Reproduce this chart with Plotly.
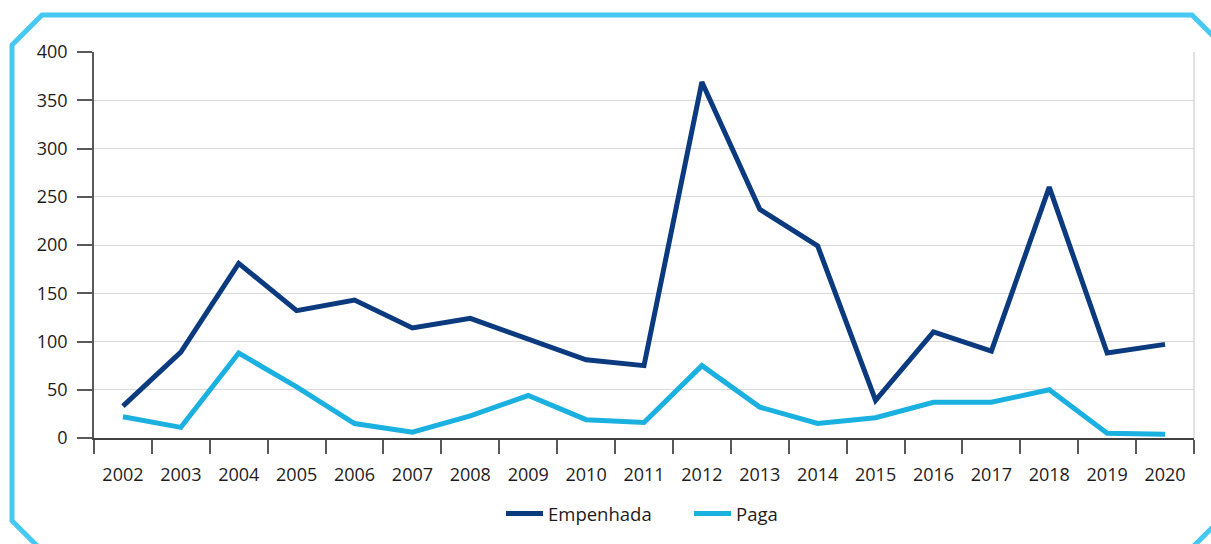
import plotly.graph_objects as go

# ---- data ----
years = ["2002", "2003", "2004", "2005", "2006", "2007", "2008", "2009", "2010", "2011",
         "2012", "2013", "2014", "2015", "2016", "2017", "2018", "2019", "2020"]
empenhada = [33, 89, 181, 132, 143, 114, 124, 102, 81, 75,
             369, 237, 199, 39, 110, 90, 260, 88, 97]
paga = [22, 11, 88, 53, 15, 6, 23, 44, 19, 16,
        75, 32, 15, 21, 37, 37, 50, 5, 4]
series_names = ["Empenhada", "Paga"]
y_ticks = [0, 50, 100, 150, 200, 250, 300, 350, 400]

# ---- layout geometry (pixels) ----
W, H = 1211, 544
L, R, T, B = 94, 1194, 52, 439

def px(x):
    return (x - L) / (R - L)

def py(y):
    return (B - y) / (B - T)

frame_pts = [(12, 45), (42, 15), (1192, 15), (1226, 49), (1226, 515),
             (1180, 561), (51, 561), (12, 522)]
frame_path = "M " + " L ".join(f"{px(x):.5f},{py(y):.5f}" for x, y in frame_pts) + " Z"

FONT = "Open Sans"
TXT = "#1E1B1C"
AX = "#595959"
GRID = "#D9D9D9"

fig = go.Figure()
fig.add_trace(go.Scatter(x=years, y=empenhada, name=series_names[0], mode="lines",
                         line=dict(color="#0B3A7E", width=5)))
fig.add_trace(go.Scatter(x=years, y=paga, name=series_names[1], mode="lines",
                         line=dict(color="#1AB0E0", width=5)))

fig.update_layout(
    width=W, height=H,
    margin=dict(l=L, r=W - R, t=T, b=H - B, pad=0),
    paper_bgcolor="white", plot_bgcolor="white",
    font=dict(family=FONT, size=18, color=TXT),
    showlegend=True,
    legend=dict(orientation="h", x=px(501), xanchor="left", y=py(514), yanchor="middle",
                entrywidth=136, entrywidthmode="pixels", itemwidth=37,
                font=dict(family=FONT, size=18.5, color=TXT), bgcolor="rgba(0,0,0,0)"),
    xaxis=dict(type="category", tickson="boundaries", ticks="outside", ticklen=14,
               tickcolor=AX, tickwidth=1.5, showline=True, linecolor="#404040", linewidth=1.5,
               showgrid=False, ticklabelstandoff=20, tickfont=dict(size=18, color=TXT),
               range=[-0.5, len(years) - 0.5], fixedrange=True),
    yaxis=dict(range=[0, 400], tickvals=y_ticks, ticks="outside", ticklen=15,
               tickcolor=AX, tickwidth=1.5, showline=True, linecolor=AX, linewidth=1.5,
               showgrid=True, gridcolor=GRID, gridwidth=1.2, zeroline=False,
               ticklabelstandoff=6, tickfont=dict(size=18, color=TXT), fixedrange=True),
    shapes=[
        dict(type="line", xref="paper", yref="paper", x0=1, x1=1, y0=0, y1=1,
             line=dict(color=GRID, width=1.5), layer="below"),
        dict(type="path", xref="paper", yref="paper", path=frame_path,
             line=dict(color="#45C8F2", width=5), fillcolor="rgba(0,0,0,0)"),
    ],
)

fig.write_html("out.html", config={"displayModeBar": False},
               post_script="document.body.style.margin='0';document.body.style.overflow='hidden';")
